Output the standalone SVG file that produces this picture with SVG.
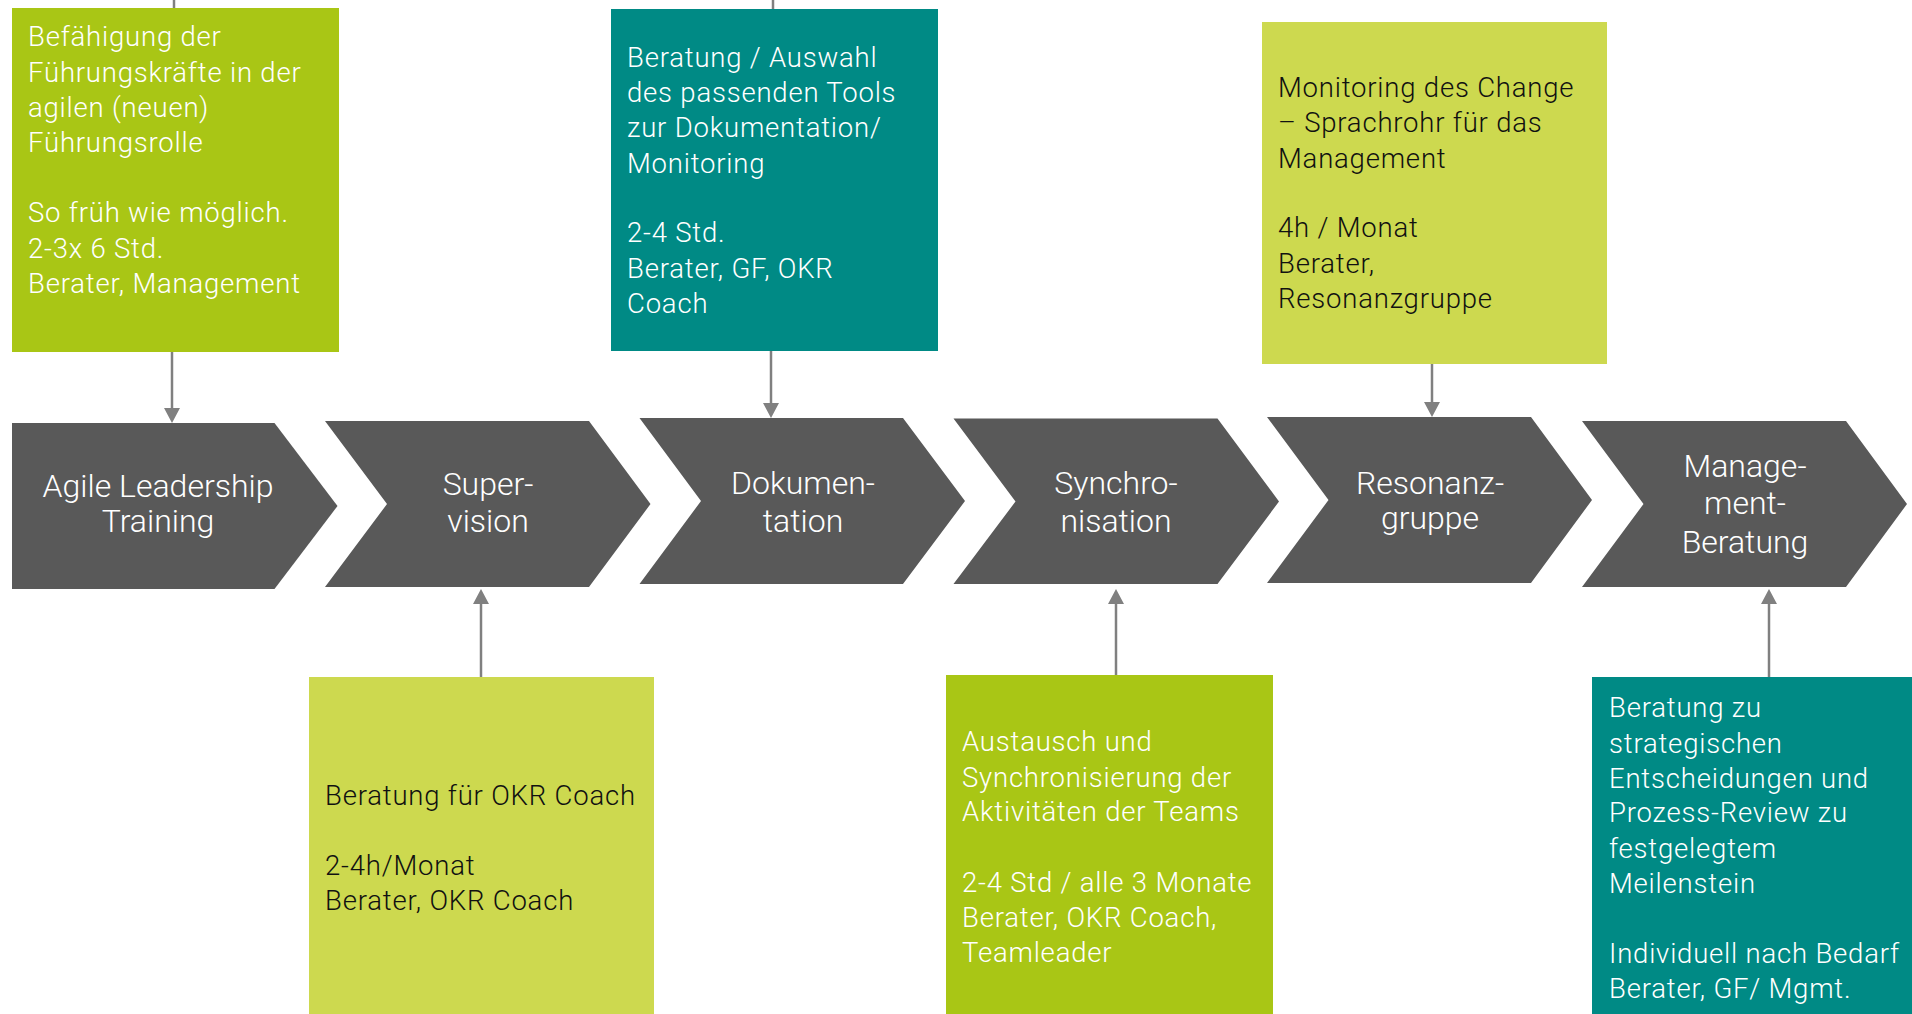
<svg xmlns="http://www.w3.org/2000/svg" width="1912" height="1014" viewBox="0 0 1912 1014">
<defs>
<style>
.chev{fill:#595959}
.lbl{font-family:"Roboto Light",Roboto,"Liberation Sans",sans-serif;font-weight:300;font-size:32px;fill:#ffffff;text-anchor:middle}
.txt{font-family:"Roboto Light",Roboto,"Liberation Sans",sans-serif;font-weight:300;font-size:27.5px;letter-spacing:0.8px}
.w{fill:#ffffff}
.k{fill:#111111}
.lime{fill:#a9c615}
.light{fill:#cdd94f}
.teal{fill:#008a85}
.con{stroke:#808080;stroke-width:2.5;fill:none}
</style>
<marker id="ah" markerUnits="userSpaceOnUse" markerWidth="16" markerHeight="16" viewBox="0 0 16 16" refX="0" refY="8" orient="auto">
<path d="M0,0 L15,8 L0,16 z" fill="#808080"/>
</marker>
</defs>
<rect width="1912" height="1014" fill="#ffffff"/>

<g id="connectors">
<line class="con" x1="174" y1="0" x2="174" y2="10"/>
<line class="con" x1="773" y1="0" x2="773" y2="11"/>
<line class="con" x1="172" y1="350" x2="172" y2="408" marker-end="url(#ah)"/>
<line class="con" x1="771" y1="349" x2="771" y2="403" marker-end="url(#ah)"/>
<line class="con" x1="1432" y1="362" x2="1432" y2="402" marker-end="url(#ah)"/>
<line class="con" x1="481" y1="679" x2="481" y2="604" marker-end="url(#ah)"/>
<line class="con" x1="1116" y1="677" x2="1116" y2="604" marker-end="url(#ah)"/>
<line class="con" x1="1769" y1="679" x2="1769" y2="604" marker-end="url(#ah)"/>
</g>

<g id="step-agile-leadership">
<polygon class="chev" points="12,423 274.5,423 337.5,506 274.5,589 12,589"/>
<text class="lbl"><tspan x="158" y="497">Agile Leadership</tspan><tspan x="158" y="532">Training</tspan></text>
</g>
<g id="step-supervision">
<polygon class="chev" points="325,421 589,421 650.5,504 589,587 325,587 387,504"/>
<text class="lbl"><tspan x="488" y="495">Super-</tspan><tspan x="488" y="532">vision</tspan></text>
</g>
<g id="step-dokumentation">
<polygon class="chev" points="639.5,418 903,418 965,501 903,584 639.5,584 701,501"/>
<text class="lbl"><tspan x="803" y="494">Dokumen-</tspan><tspan x="803" y="532">tation</tspan></text>
</g>
<g id="step-synchronisation">
<polygon class="chev" points="953.5,418.5 1217.5,418.5 1279,501.5 1217.5,584 953.5,584 1015.5,501.5"/>
<text class="lbl"><tspan x="1116" y="494">Synchro-</tspan><tspan x="1116" y="532">nisation</tspan></text>
</g>
<g id="step-resonanzgruppe">
<polygon class="chev" points="1267,417 1531,417 1592,500 1531,583 1267,583 1328.5,500"/>
<text class="lbl"><tspan x="1430" y="494">Resonanz-</tspan><tspan x="1430" y="529">gruppe</tspan></text>
</g>
<g id="step-management-beratung">
<polygon class="chev" points="1582,421 1846,421 1907,504 1846,587 1582,587 1643.5,504"/>
<text class="lbl"><tspan x="1745" y="477">Manage-</tspan><tspan x="1745" y="514">ment-</tspan><tspan x="1745" y="553">Beratung</tspan></text>
</g>

<g id="box-leadership">
<rect class="lime" x="12" y="8" width="327" height="344"/>
<text class="txt w"><tspan x="28" y="46">Befähigung der</tspan><tspan x="28" y="82">Führungskräfte in der</tspan><tspan x="28" y="117">agilen (neuen)</tspan><tspan x="28" y="152">Führungsrolle</tspan><tspan x="28" y="222">So früh wie möglich.</tspan><tspan x="28" y="258">2-3x 6 Std.</tspan><tspan x="28" y="293">Berater, Management</tspan></text>
</g>
<g id="box-dokumentation">
<rect class="teal" x="611" y="9" width="327" height="342"/>
<text class="txt w"><tspan x="627" y="67">Beratung / Auswahl</tspan><tspan x="627" y="102">des passenden Tools</tspan><tspan x="627" y="137">zur Dokumentation/</tspan><tspan x="627" y="173">Monitoring</tspan><tspan x="627" y="242">2-4 Std.</tspan><tspan x="627" y="278">Berater, GF, OKR</tspan><tspan x="627" y="313">Coach</tspan></text>
</g>
<g id="box-resonanz">
<rect class="light" x="1262" y="22" width="345" height="342"/>
<text class="txt k"><tspan x="1278" y="97">Monitoring des Change</tspan><tspan x="1278" y="132">– Sprachrohr für das</tspan><tspan x="1278" y="168">Management</tspan><tspan x="1278" y="237">4h / Monat</tspan><tspan x="1278" y="273">Berater,</tspan><tspan x="1278" y="308">Resonanzgruppe</tspan></text>
</g>
<g id="box-supervision">
<rect class="light" x="309" y="677" width="345" height="337"/>
<text class="txt k"><tspan x="325" y="805">Beratung für OKR Coach</tspan><tspan x="325" y="875">2-4h/Monat</tspan><tspan x="325" y="910">Berater, OKR Coach</tspan></text>
</g>
<g id="box-synchronisation">
<rect class="lime" x="946" y="675" width="327" height="339"/>
<text class="txt w"><tspan x="962" y="751">Austausch und</tspan><tspan x="962" y="787">Synchronisierung der</tspan><tspan x="962" y="821">Aktivitäten der Teams</tspan><tspan x="962" y="892">2-4 Std / alle 3 Monate</tspan><tspan x="962" y="927">Berater, OKR Coach,</tspan><tspan x="962" y="962">Teamleader</tspan></text>
</g>
<g id="box-management">
<rect class="teal" x="1592" y="677" width="320" height="337"/>
<text class="txt w"><tspan x="1609" y="717">Beratung zu</tspan><tspan x="1609" y="753">strategischen</tspan><tspan x="1609" y="788">Entscheidungen und</tspan><tspan x="1609" y="822">Prozess-Review zu</tspan><tspan x="1609" y="858">festgelegtem</tspan><tspan x="1609" y="893">Meilenstein</tspan><tspan x="1609" y="963">Individuell nach Bedarf</tspan><tspan x="1609" y="998">Berater, GF/ Mgmt.</tspan></text>
</g>
</svg>
